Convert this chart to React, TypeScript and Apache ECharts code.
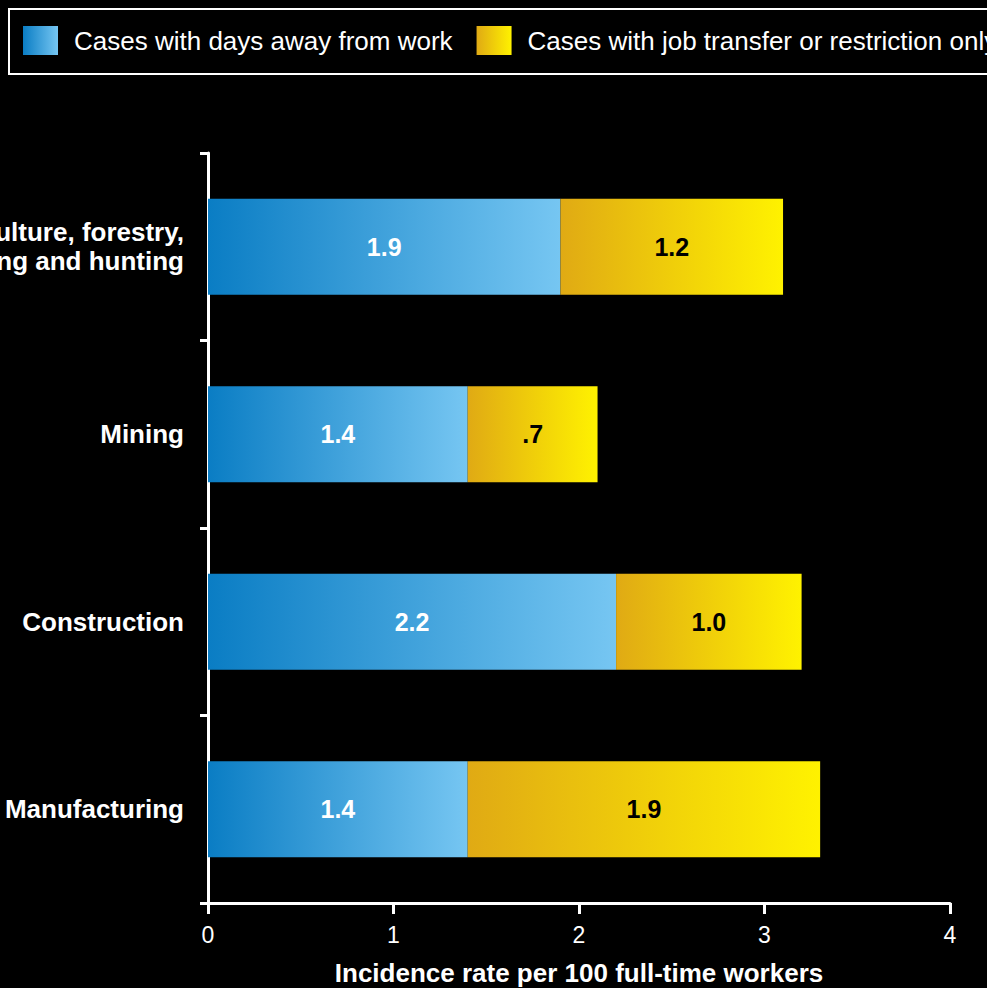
import React, { useEffect, useRef } from "react";
import * as echarts from "echarts";

const categories = [
  "Agriculture, forestry,\nfishing and hunting",
  "Mining",
  "Construction",
  "Manufacturing",
];
const daysAwayValues = [1.9, 1.4, 2.2, 1.4];
const transferValues = [1.2, 0.7, 1.0, 1.9];
const xTicks = { min: 0, max: 4, interval: 1 };
const seriesNames = [
  "Cases with days away from work",
  "Cases with job transfer or restriction only",
];
const xAxisTitle = "Incidence rate per 100 full-time workers";

const FONT = '"Liberation Sans", Arial, Helvetica, sans-serif';

const fmt = (v: number) => v.toFixed(1).replace(/^0\./, ".");

export default function App() {
  const ref = useRef<HTMLDivElement>(null);
  useEffect(() => {
    if (!ref.current) return;
    const chart = echarts.init(ref.current, null, { renderer: "svg" });
    const blue = new echarts.graphic.LinearGradient(0, 0, 1, 0, [
      { offset: 0, color: "#0A7DC4" },
      { offset: 1, color: "#76C6F2" },
    ]);
    const yellow = new echarts.graphic.LinearGradient(0, 0, 1, 0, [
      { offset: 0, color: "#E0AA14" },
      { offset: 1, color: "#FFF200" },
    ]);
    chart.setOption({
      animation: false,
      backgroundColor: "#000",
      textStyle: { fontFamily: FONT },
      legend: {
        left: 9,
        top: 9,
        width: 1600,
        padding: [17, 14, 19, 14],
        borderColor: "#fff",
        borderWidth: 2,
        itemWidth: 35,
        itemHeight: 29,
        itemGap: 24,
        selectedMode: false,
        icon: "rect",
        textStyle: {
          color: "#fff",
          fontSize: 26,
          fontFamily: FONT,
          padding: [0, 0, 0, 11],
        },
        data: seriesNames,
      },
      grid: {
        left: 208,
        right: 37,
        top: 153,
        bottom: 85,
        containLabel: false,
        outerBoundsMode: "none",
      },
      xAxis: {
        type: "value",
        min: xTicks.min,
        max: xTicks.max,
        interval: xTicks.interval,
        name: xAxisTitle,
        nameLocation: "middle",
        nameGap: 57,
        nameTextStyle: {
          color: "#fff",
          fontSize: 26,
          fontWeight: "bold",
          fontFamily: FONT,
        },
        splitLine: { show: false },
        axisLine: { show: true, lineStyle: { color: "#fff", width: 3 } },
        axisTick: { show: true, length: 11, lineStyle: { color: "#fff", width: 3 } },
        axisLabel: {
          color: "#fff",
          fontSize: 23,
          margin: 20,
          fontFamily: FONT,
        },
      },
      yAxis: {
        type: "category",
        data: categories,
        inverse: true,
        axisLine: { show: true, lineStyle: { color: "#fff", width: 3 } },
        axisTick: {
          show: true,
          length: 8,
          alignWithLabel: false,
          lineStyle: { color: "#fff", width: 3 },
        },
        axisLabel: {
          color: "#fff",
          fontSize: 26,
          fontWeight: "bold",
          lineHeight: 29,
          margin: 24,
          align: "right",
          fontFamily: FONT,
        },
        splitLine: { show: false },
      },
      series: [
        {
          name: seriesNames[0],
          type: "bar",
          stack: "total",
          barWidth: 96,
          data: daysAwayValues,
          itemStyle: { color: blue },
          label: {
            show: true,
            position: "inside",
            color: "#fff",
            fontSize: 25,
            fontWeight: "bold",
            fontFamily: FONT,
            formatter: (p: any) => fmt(p.value),
          },
        },
        {
          name: seriesNames[1],
          type: "bar",
          stack: "total",
          barWidth: 96,
          data: transferValues,
          itemStyle: { color: yellow },
          label: {
            show: true,
            position: "inside",
            color: "#000",
            fontSize: 25,
            fontWeight: "bold",
            fontFamily: FONT,
            formatter: (p: any) => fmt(p.value),
          },
        },
      ],
    });
    return () => chart.dispose();
  }, []);
  return (
    <div
      ref={ref}
      style={{
        position: "fixed",
        left: 0,
        top: 0,
        width: 987,
        height: 988,
        background: "#000",
      }}
    />
  );
}
